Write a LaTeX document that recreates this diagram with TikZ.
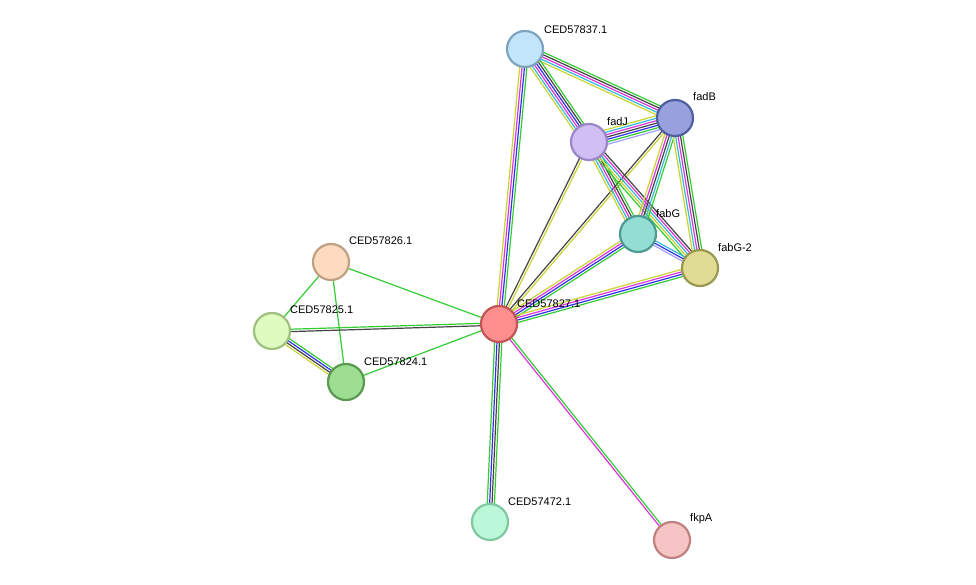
\documentclass[tikz,border=0pt]{standalone}
\usepackage{fontspec}
\setmainfont{Liberation Sans}
\usetikzlibrary{calc,backgrounds}
\definecolor{eg}{HTML}{33CC33}
\definecolor{eb}{HTML}{3030F0}
\definecolor{em}{HTML}{DD33DD}
\definecolor{ek}{HTML}{444444}
\definecolor{ec}{HTML}{33BBDD}
\definecolor{ey}{HTML}{C8D430}
\definecolor{el}{HTML}{A0A0FF}
\newcommand\sedge[4]{%
  \foreach \c [count=\i] in {#4} {
    \pgfmathsetmacro\off{(\i-(#3+1)/2)*2.4}
    \draw[\c,line width=1.2pt] ($(#1.center)!\off pt!90:(#2.center)$) -- ($(#2.center)!\off pt!-90:(#1.center)$);
  }}
\begin{document}
\begin{tikzpicture}[x=1pt,y=-1pt,
  prot/.style={circle,minimum size=36pt,inner sep=0pt,line width=2.2pt},
  lab/.style={font=\fontsize{11}{12}\selectfont,anchor=south west,inner sep=1pt}]
\useasboundingbox (0,0) rectangle (976,585);
\node[prot,fill={rgb,255:red,194;green,229;blue,250},draw={rgb,255:red,123;green,165;blue,192}] (n837) at (525,49) {};
\node[prot,fill={rgb,255:red,152;green,160;blue,221},draw={rgb,255:red,80;green,96;blue,158}] (fadB) at (675,118) {};
\node[prot,fill={rgb,255:red,208;green,191;blue,245},draw={rgb,255:red,154;green,134;blue,200}] (fadJ) at (589,142) {};
\node[prot,fill={rgb,255:red,147;green,221;blue,213},draw={rgb,255:red,77;green,154;blue,144}] (fabG) at (638,234) {};
\node[prot,fill={rgb,255:red,224;green,219;blue,149},draw={rgb,255:red,154;green,152;blue,80}] (fabG2) at (700,268) {};
\node[prot,fill={rgb,255:red,255;green,143;blue,143},draw={rgb,255:red,192;green,85;blue,85}] (n827) at (499,324) {};
\node[prot,fill={rgb,255:red,253;green,219;blue,192},draw={rgb,255:red,191;green,160;blue,128}] (n826) at (331,262) {};
\node[prot,fill={rgb,255:red,224;green,251;blue,192},draw={rgb,255:red,160;green,192;blue,128}] (n825) at (272,331) {};
\node[prot,fill={rgb,255:red,157;green,222;blue,146},draw={rgb,255:red,90;green,154;blue,80}] (n824) at (346,382) {};
\node[prot,fill={rgb,255:red,187;green,248;blue,218},draw={rgb,255:red,128;green,200;blue,160}] (n472) at (490,522) {};
\node[prot,fill={rgb,255:red,246;green,196;blue,196},draw={rgb,255:red,192;green,128;blue,128}] (fkpA) at (672,540) {};
\begin{scope}[on background layer]
\fill[white] (0,0) rectangle (976,585);
\sedge{n837}{n827}{4}{ey,em,eb,eg}
\sedge{n837}{fadB}{5}{ey,ec,em,ek,eg}
\sedge{n837}{fadJ}{6}{ey,ec,em,eb,ek,eg}
\sedge{fadJ}{fadB}{7}{el,eg,eb,ek,em,ec,ey}
\sedge{fadJ}{n827}{2}{ek,ey}
\sedge{fadB}{n827}{2}{ek,ey}
\sedge{fadJ}{fabG}{5}{ey,ec,em,ek,eg}
\sedge{fadJ}{fabG2}{5}{eg,ey,ec,em,ek}
\sedge{fadB}{fabG}{5}{ey,em,ek,ec,eg}
\sedge{fadB}{fabG2}{5}{ey,ec,em,ek,eg}
\sedge{fabG}{fabG2}{3}{el,eb,ec}
\sedge{fabG}{n827}{4}{ey,em,eb,eg}
\sedge{fabG2}{n827}{4}{ey,em,eb,eg}
\sedge{n826}{n827}{1}{eg}
\sedge{n826}{n825}{1}{eg}
\sedge{n826}{n824}{1}{eg}
\sedge{n825}{n827}{2}{ek,eg}
\sedge{n825}{n824}{4}{ey,ek,eb,eg}
\sedge{n824}{n827}{1}{eg}
\sedge{n827}{n472}{4}{eg,eb,ek,eg}
\sedge{n827}{fkpA}{2}{em,eg}
\end{scope}
\node[lab] at (543,35) {CED57837.1};
\node[lab] at (692,102) {fadB};
\node[lab] at (606,127) {fadJ};
\node[lab] at (655,219) {fabG};
\node[lab] at (717,253) {fabG-2};
\node[lab] at (516,309) {CED57827.1};
\node[lab] at (348,246) {CED57826.1};
\node[lab] at (289,315) {CED57825.1};
\node[lab] at (363,367) {CED57824.1};
\node[lab] at (507,507) {CED57472.1};
\node[lab] at (689,525) {fkpA};
\end{tikzpicture}
\end{document}
